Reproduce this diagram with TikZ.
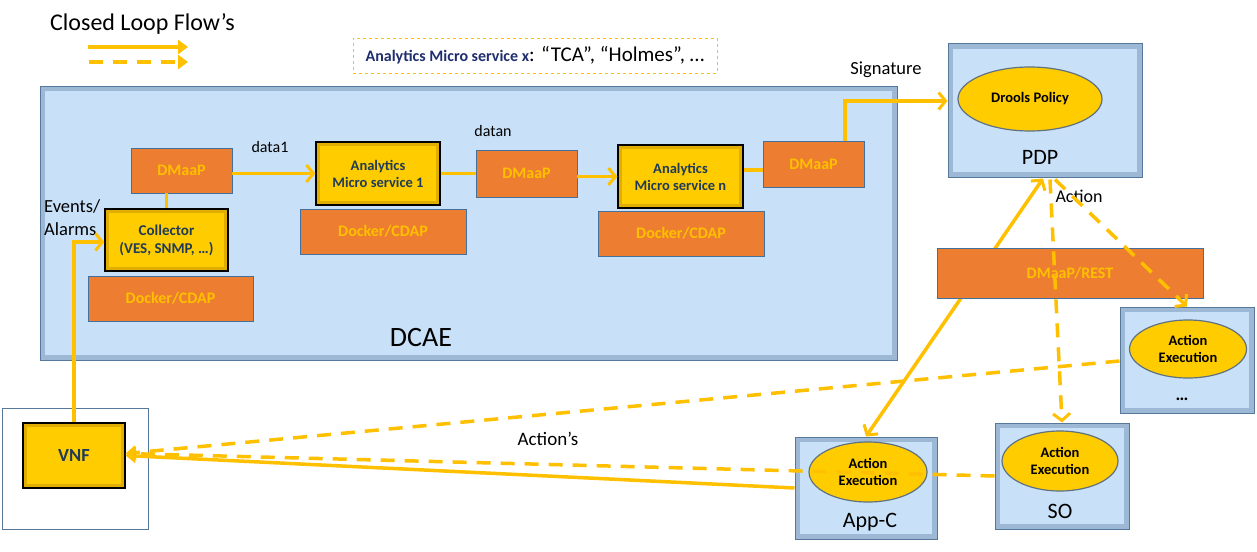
\documentclass[tikz,border=0pt]{standalone}
\usepackage{fontspec}
\setmainfont{Carlito}
\usetikzlibrary{arrows.meta,calc,shapes.geometric}
\definecolor{lineY}{HTML}{FFC000}
\definecolor{boxY}{HTML}{FFCC00}
\definecolor{boxYdark}{HTML}{E0AE00}
\definecolor{orangeB}{HTML}{ED7D31}
\definecolor{orangeEdge}{HTML}{41719C}
\definecolor{lblue}{HTML}{C9E1F8}
\definecolor{lbluedark}{HTML}{9DB8D4}
\definecolor{bevelEdge}{HTML}{56789A}
\definecolor{navyT}{HTML}{1F3B57}
\definecolor{navyB}{HTML}{1F2E6E}
\definecolor{ellEdge}{HTML}{5F7183}
\tikzset{
  bevelblue/.style={fill=lbluedark, draw=bevelEdge, line width=1pt, inner sep=0pt,
    path picture={\fill[lblue] ([shift={(5pt,-5pt)}]path picture bounding box.north west) rectangle ([shift={(-5pt,5pt)}]path picture bounding box.south east);}},
  ybox/.style={fill=boxYdark, draw=black, line width=1.3pt, inner sep=0pt, align=center,
    text=navyT, font=\fontsize{14.5}{17}\selectfont\bfseries,
    path picture={\fill[boxY] ([shift={(4pt,-4pt)}]path picture bounding box.north west) rectangle ([shift={(-4pt,4pt)}]path picture bounding box.south east);}},
  obox/.style={fill=orangeB, draw=orangeEdge, line width=0.9pt, inner sep=0pt,
    text=lineY, font=\fontsize{16}{18}\selectfont\bfseries},
  yell/.style={ellipse, fill=boxY, draw=ellEdge, line width=1.2pt, inner sep=0pt, align=center,
    font=\fontsize{14.5}{17}\selectfont\bfseries, text=black},
  lbl/.style={font=\fontsize{16}{19}\selectfont, text=black, inner sep=0pt},
  big/.style={font=\fontsize{22}{25}\selectfont, text=black, inner sep=0pt},
  flow/.style={draw=lineY, line width=3.5pt},
  dflow/.style={flow, dash pattern=on 14pt off 10pt},
  barb/.style={-{Straight Barb[length=7pt,width=17pt,line width=3pt]}},
  barbs/.style={{Straight Barb[length=7pt,width=17pt,line width=3pt]}-{Straight Barb[length=7pt,width=17pt,line width=3pt]}},
  tri/.style={-{Triangle[length=10pt,width=14pt]}}
}
\begin{document}
\begin{tikzpicture}[x=1pt,y=-1pt]
\useasboundingbox[fill=white] (0,0) rectangle (1257,551);

% legend
\node[anchor=west, font=\fontsize{24}{27}\selectfont, inner sep=0pt] (title) at (50,24) {Closed Loop Flow’s};
\coordinate (la1) at (88,47); \coordinate (lb1) at (188,47);
\coordinate (la2) at (89,62); \coordinate (lb2) at (188,62);
\draw[flow,tri] (la1) -- (lb1);
\draw[dflow,tri] (la2) -- (lb2);

\node[draw=lineY, dashed, line width=0.8pt, minimum width=364pt, minimum height=35pt, inner sep=0pt] (amsx) at (535,55.5)
  {{\color{navyB}\fontsize{16}{18}\selectfont\bfseries Analytics Micro service x}{\fontsize{21}{23}\selectfont: “TCA”, “Holmes”, …}};

% DCAE
\node[bevelblue, minimum width=857pt, minimum height=274pt] (dcae) at (468.5,223) {};
\node[big, font=\fontsize{28}{31}\selectfont] (dcaelbl) at (421,338) {DCAE};

\node[obox, minimum width=101pt, minimum height=45pt] (dm1) at (181.5,170.5) {DMaaP};
\node[ybox, minimum width=123pt, minimum height=62pt, font=\fontsize{15}{18}\selectfont\bfseries] (coll) at (166.5,240) {Collector\\(VES, SNMP, …)};
\node[obox, minimum width=165pt, minimum height=45pt] (dk1) at (170.5,298.5) {Docker/CDAP};
\node[ybox, minimum width=124pt, minimum height=63pt] (an1) at (378,173.5) {Analytics\\Micro service 1};
\node[obox, minimum width=166pt, minimum height=45pt] (dk2) at (383,231.5) {Docker/CDAP};
\node[obox, minimum width=101pt, minimum height=47pt] (dm2) at (526.5,173.5) {DMaaP};
\node[ybox, minimum width=125pt, minimum height=63pt] (ann) at (680.5,176.5) {Analytics\\Micro service n};
\node[obox, minimum width=166pt, minimum height=45pt] (dk3) at (681,233.5) {Docker/CDAP};
\node[obox, minimum width=101pt, minimum height=46pt] (dm3) at (813.5,164) {DMaaP};

\node[lbl] (data1) at (270,147) {data1};
\node[lbl] (datan) at (493,131) {datan};
\node[lbl, align=left, anchor=west, font=\fontsize{18.5}{23}\selectfont] (ev) at (44,218) {Events/\\Alarms};

% PDP
\node[bevelblue, minimum width=194pt, minimum height=133pt] (pdp) at (1045,110.5) {};
\node[yell, minimum width=144pt, minimum height=64pt] (drools) at (1030,99) {Drools Policy};
\node[big] (pdplbl) at (1040,157) {PDP};
\node[lbl, font=\fontsize{18.5}{21}\selectfont] (sig) at (886,70) {Signature};
\node[lbl, font=\fontsize{18}{21}\selectfont] (act) at (1079,196) {Action};

% VNF
\node[draw=bevelEdge, fill=white, line width=1pt, minimum width=146pt, minimum height=121pt] (vnfo) at (75,468.5) {};
\node[ybox, minimum width=102pt, minimum height=65pt, font=\fontsize{18.5}{21}\selectfont\bfseries] (vnf) at (74,455.5) {VNF};

% action execution boxes
\node[bevelblue, minimum width=134pt, minimum height=106pt] (ae1) at (1187,360) {};
\node[yell, minimum width=117pt, minimum height=58pt] (ae1e) at (1188,349) {Action\\Execution};
\node[lbl, font=\fontsize{18}{20}\selectfont\bfseries] (dots) at (1182,399) {…};

\node[bevelblue, minimum width=134pt, minimum height=106pt] (so) at (1062,476) {};
\node[yell, minimum width=116pt, minimum height=60pt] (soe) at (1060,461) {Action\\Execution};
\node[big] (solbl) at (1060,511) {SO};

\node[bevelblue, minimum width=142pt, minimum height=102pt] (appc) at (866,488) {};
\node[yell, minimum width=118pt, minimum height=60pt] (appce) at (868,472) {Action\\Execution};
\node[big] (appclbl) at (870,522) {App-C};

% DCAE flows
\draw[flow,barb] (vnf.north) |- ($(coll.west)+(0,2)$);
\draw[flow] (coll.north) -- (coll.north |- dm1.south);
\draw[flow,barb] (dm1.east |- an1.west) -- (an1.west);
\draw[flow] (an1.east) -- (dm2.west |- an1.east);
\draw[flow,barb] ($(dm2.east)+(0,3)$) -- (ann.west);
\draw[flow] ($(dm3.west)+(0,6)$) -- (ann.east |- {$(dm3.west)+(0,6)$});
\draw[flow,barb] ($(dm3.north)+(31.5,0)$) |- ($(pdp.west)+(0,-9.5)$);

% PDP to App-C (solid, behind DMaaP/REST)
\draw[flow,barbs] ($(pdp.south)+(-2,1)$) -- (appc.north);

\node[obox, minimum width=266pt, minimum height=50pt] (rest) at (1070,273) {DMaaP/REST};

% dashed action flows
\draw[dflow,barb] ($(pdp.south)+(5,2)$) -- (so.north);
\draw[dflow,barb] ($(pdp.south)+(10,2)$) -- (ae1.north);
\draw[dflow,tri] ($(ae1.west)+(0,1)$) -- ($(vnf.east)+(0,-2)$);
\draw[dflow,tri] (so.west) -- ($(vnf.east)+(0,-2)$);
\draw[flow,tri] (appc.west) -- (vnf.east);
\node[lbl, font=\fontsize{19}{21}\selectfont] (acts) at (548,439) {Action’s};
\end{tikzpicture}
\end{document}
